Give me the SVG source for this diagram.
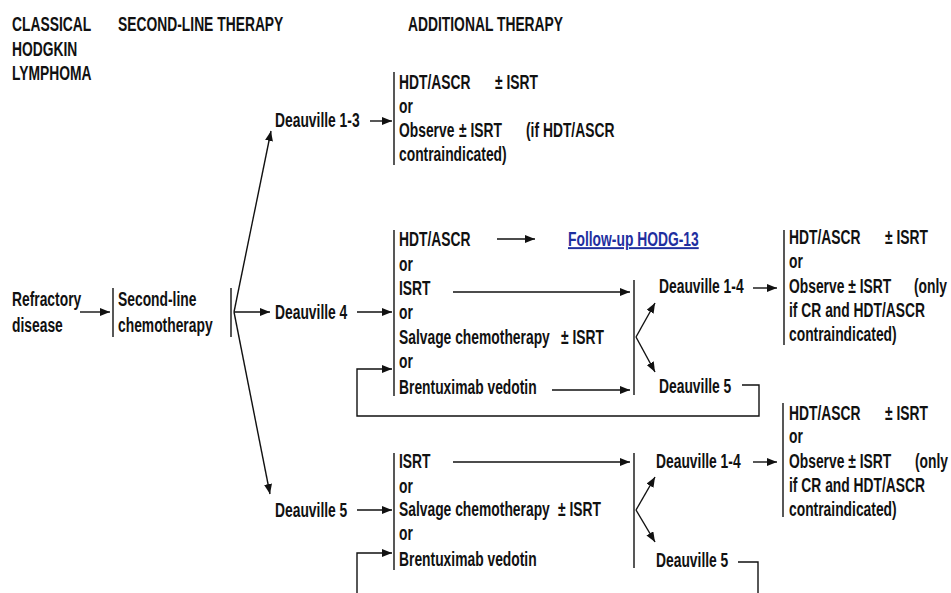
<svg xmlns="http://www.w3.org/2000/svg" width="951" height="593" viewBox="0 0 951 593">
<defs>
<style>
text{font-family:"Liberation Sans",Arial,sans-serif;font-size:19.5px;font-weight:bold;fill:#111;}
.link{fill:#1f2f9f;text-decoration:underline;}
.ln{stroke:#111;stroke-width:1.4;fill:none;}
.arr{marker-end:url(#ah);}
</style>
<marker id="ah" markerUnits="userSpaceOnUse" markerWidth="10" markerHeight="8" refX="10" refY="4" orient="auto">
<path d="M0,0 L10,4 L0,8 z" fill="#111"/>
</marker>
</defs>
<rect width="951" height="593" fill="#fff"/>

<g id="header">
<g transform="scale(0.71,1)">
<text x="16.9" y="31">CLASSICAL</text>
<text x="16.9" y="56">HODGKIN</text>
<text x="16.9" y="80">LYMPHOMA</text>
<text x="166.2" y="31">SECOND-LINE THERAPY</text>
<text x="574.65" y="31">ADDITIONAL THERAPY</text>
</g>
</g>

<g id="refractory">
<g transform="scale(0.71,1)">
<text x="16.9" y="306">Refractory</text>
<text x="16.9" y="332">disease</text>
</g>
</g>

<g id="second-line">
<line class="ln" x1="113" y1="288" x2="113" y2="337"/>
<line class="ln" x1="231" y1="288" x2="231" y2="337"/>
<g transform="scale(0.71,1)">
<text x="166.2" y="306">Second-line</text>
<text x="166.2" y="332">chemotherapy</text>
</g>
</g>

<g id="deauville13">
<g transform="scale(0.71,1)"><text x="387.32" y="127">Deauville 1-3</text></g>
</g>

<g id="block13">
<line class="ln" x1="394" y1="72" x2="394" y2="165"/>
<g transform="scale(0.71,1)">
<text x="561.97" y="89">HDT/ASCR</text>
<text x="697.18" y="89">± ISRT</text>
<text x="561.97" y="113">or</text>
<text x="561.97" y="137">Observe</text>
<text x="646.48" y="137">± ISRT</text>
<text x="740.85" y="137">(if HDT/ASCR</text>
<text x="561.97" y="161">contraindicated)</text>
</g>
</g>

<g id="deauville4">
<g transform="scale(0.71,1)"><text x="387.32" y="319">Deauville 4</text></g>
</g>

<g id="block4">
<line class="ln" x1="394" y1="230" x2="394" y2="396"/>
<g transform="scale(0.71,1)">
<text x="561.97" y="246">HDT/ASCR</text>
<text x="561.97" y="271">or</text>
<text x="561.97" y="295">ISRT</text>
<text x="561.97" y="319">or</text>
<text x="561.97" y="344">Salvage chemotherapy</text>
<text x="790.14" y="344">± ISRT</text>
<text x="561.97" y="368">or</text>
<text x="561.97" y="394">Brentuximab vedotin</text>
</g>
</g>

<g id="followup">
<g transform="scale(0.71,1)"><text class="link" x="800" y="246">Follow-up HODG-13</text></g>
</g>

<g id="d4-deauville14">
<g transform="scale(0.71,1)"><text x="928.17" y="293">Deauville 1-4</text></g>
</g>

<g id="d4-deauville5">
<g transform="scale(0.71,1)"><text x="928.17" y="393">Deauville 5</text></g>
</g>

<g id="block4-right">
<line class="ln" x1="784" y1="230" x2="784" y2="345"/>
<g transform="scale(0.71,1)">
<text x="1111.27" y="244">HDT/ASCR</text>
<text x="1246.48" y="244">± ISRT</text>
<text x="1111.27" y="268">or</text>
<text x="1111.27" y="293">Observe ± ISRT</text>
<text x="1287.32" y="293">(only</text>
<text x="1111.27" y="317">if CR and HDT/ASCR</text>
<text x="1111.27" y="341">contraindicated)</text>
</g>
</g>

<g id="deauville5">
<g transform="scale(0.71,1)"><text x="387.32" y="517">Deauville 5</text></g>
</g>

<g id="block5">
<line class="ln" x1="394" y1="453" x2="394" y2="570"/>
<g transform="scale(0.71,1)">
<text x="561.97" y="468">ISRT</text>
<text x="561.97" y="493">or</text>
<text x="561.97" y="516">Salvage chemotherapy</text>
<text x="785.92" y="516">± ISRT</text>
<text x="561.97" y="540">or</text>
<text x="561.97" y="566">Brentuximab vedotin</text>
</g>
</g>

<g id="d5-deauville14">
<g transform="scale(0.71,1)"><text x="923.94" y="468">Deauville 1-4</text></g>
</g>

<g id="d5-deauville5">
<g transform="scale(0.71,1)"><text x="923.94" y="567">Deauville 5</text></g>
</g>

<g id="block5-right">
<line class="ln" x1="783" y1="403" x2="783" y2="517"/>
<g transform="scale(0.71,1)">
<text x="1111.27" y="420">HDT/ASCR</text>
<text x="1246.48" y="420">± ISRT</text>
<text x="1111.27" y="443">or</text>
<text x="1111.27" y="468">Observe ± ISRT</text>
<text x="1288.73" y="468">(only</text>
<text x="1111.27" y="492">if CR and HDT/ASCR</text>
<text x="1111.27" y="516">contraindicated)</text>
</g>
</g>

<g id="connectors">
<path class="ln arr" d="M80,312 H110"/>
<path class="ln arr" d="M234,312 L271,131"/>
<path class="ln arr" d="M234,312 H270"/>
<path class="ln arr" d="M234,312 L270,494"/>
<path class="ln arr" d="M370,121 H392"/>
<path class="ln arr" d="M357,312 H392"/>
<path class="ln arr" d="M497,239 H535"/>
<path class="ln arr" d="M453,292 H630"/>
<path class="ln arr" d="M552,390 H630"/>
<line class="ln" x1="634" y1="280" x2="634" y2="395"/>
<path class="ln arr" d="M636,337 L655,303"/>
<path class="ln arr" d="M636,337 L655,372"/>
<path class="ln arr" d="M753,288 H777"/>
<path class="ln arr" d="M742,385 H759 V416 H357 V369 H392"/>
<path class="ln arr" d="M357,510 H392"/>
<path class="ln arr" d="M453,462 H630"/>
<line class="ln" x1="634" y1="453" x2="634" y2="568"/>
<path class="ln arr" d="M636,510 L655,477"/>
<path class="ln arr" d="M636,510 L655,542"/>
<path class="ln arr" d="M753,462 H777"/>
<path class="ln" d="M738,562 H758 V593"/>
<path class="ln arr" d="M357,593 V553 H392"/>
</g>
</svg>
